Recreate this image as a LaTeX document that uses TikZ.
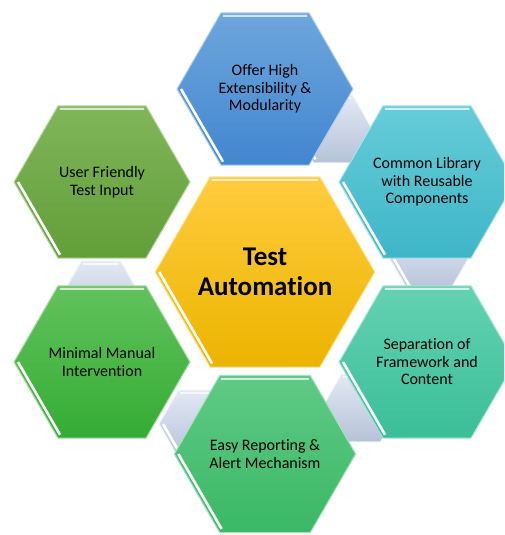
\documentclass[tikz,border=0pt]{standalone}
\usepackage{fontspec}
\setmainfont{Carlito}[Ligatures=NoCommon]
\usepackage{tikz}
\usetikzlibrary{shapes.geometric}
\usetikzlibrary{calc}
\usepackage{color}
\definecolor{Hex-gold-1}{RGB}{255,204,62}
\definecolor{Hex-gold-2}{RGB}{236,180,0}
\definecolor{Hex-blue-1}{RGB}{110,166,220}
\definecolor{Hex-blue-2}{RGB}{66,134,208}
\definecolor{Hex-teal-1}{RGB}{102,204,216}
\definecolor{Hex-teal-2}{RGB}{62,182,200}
\definecolor{Hex-mint-1}{RGB}{100,210,178}
\definecolor{Hex-mint-2}{RGB}{58,190,152}
\definecolor{Hex-green-1}{RGB}{96,202,134}
\definecolor{Hex-green-2}{RGB}{58,184,100}
\definecolor{Hex-leaf-1}{RGB}{98,194,92}
\definecolor{Hex-leaf-2}{RGB}{52,172,52}
\definecolor{Hex-olive-1}{RGB}{128,182,90}
\definecolor{Hex-olive-2}{RGB}{98,158,56}
\definecolor{Hex-link-1}{RGB}{226,233,244}
\definecolor{Hex-link-2}{RGB}{182,194,216}

% white bevel on the lower left side, light stripe on the top side
\newcommand{\hexbevel}[2]{%
  \draw[#2!30!white, line width=2pt] ($(#1.120)!3.5pt!(#1.center)$) -- ($(#1.60)!3.5pt!(#1.center)$);
  \draw[white, line width=2.6pt] ($(#1.180)!4pt!(#1.center)$) -- ($(#1.240)!4pt!(#1.center)$);
}

\begin{document}
\begin{tikzpicture}[x=1pt, y=-1pt]
    \tikzset{ tile/.style n args={2}{regular polygon, regular polygon sides=6, inner sep=0pt, outer sep=0pt, minimum size=176pt, align=center, text=black, font=\fontsize{16}{17.5}\selectfont, top color=#1, bottom color=#2, draw=#1!55!white, line width=1pt} }
    \tikzset{ link/.style={tile={Hex-link-1}{Hex-link-2}, minimum size=78pt} }
    \tikzset{ hub/.style={tile={Hex-gold-1}{Hex-gold-2}, minimum size=214pt, font=\fontsize{27}{29.5}\selectfont\bfseries} }

    \useasboundingbox (0,0) rectangle (504,535);
    \clip (0,0) rectangle (504,535);

    \node[link] (l1) at (333,129) {};
    \node[link] (l2) at (429,259) {};
    \node[link] (l3) at (361,408) {};
    \node[link] (l4) at (198,424) {};
    \node[link] (l5) at (101,295) {};
    \hexbevel{l1}{Hex-link-1}
    \hexbevel{l2}{Hex-link-1}
    \hexbevel{l3}{Hex-link-1}
    \hexbevel{l4}{Hex-link-1}
    \hexbevel{l5}{Hex-link-1}

    \node[tile={Hex-blue-1}{Hex-blue-2}] (ext) at (265,89) {Offer High\\Extensibility \&\\Modularity};
    \node[tile={Hex-teal-1}{Hex-teal-2}] (lib) at (427,182) {Common Library\\with Reusable\\Components};
    \node[tile={Hex-mint-1}{Hex-mint-2}] (sep) at (427,362) {Separation of\\Framework and\\Content};
    \node[tile={Hex-green-1}{Hex-green-2}] (rep) at (265,454) {Easy Reporting \&\\Alert Mechanism};
    \node[tile={Hex-leaf-1}{Hex-leaf-2}] (man) at (102,362) {Minimal Manual\\Intervention};
    \node[tile={Hex-olive-1}{Hex-olive-2}] (usr) at (102,182) {User Friendly\\Test Input};
    \node[hub] (ta) at (265,272) {Test\\Automation};

    \hexbevel{ext}{Hex-blue-1}
    \hexbevel{lib}{Hex-teal-1}
    \hexbevel{sep}{Hex-mint-1}
    \hexbevel{rep}{Hex-green-1}
    \hexbevel{man}{Hex-leaf-1}
    \hexbevel{usr}{Hex-olive-1}
    \hexbevel{ta}{Hex-gold-1}
\end{tikzpicture}
\end{document}
